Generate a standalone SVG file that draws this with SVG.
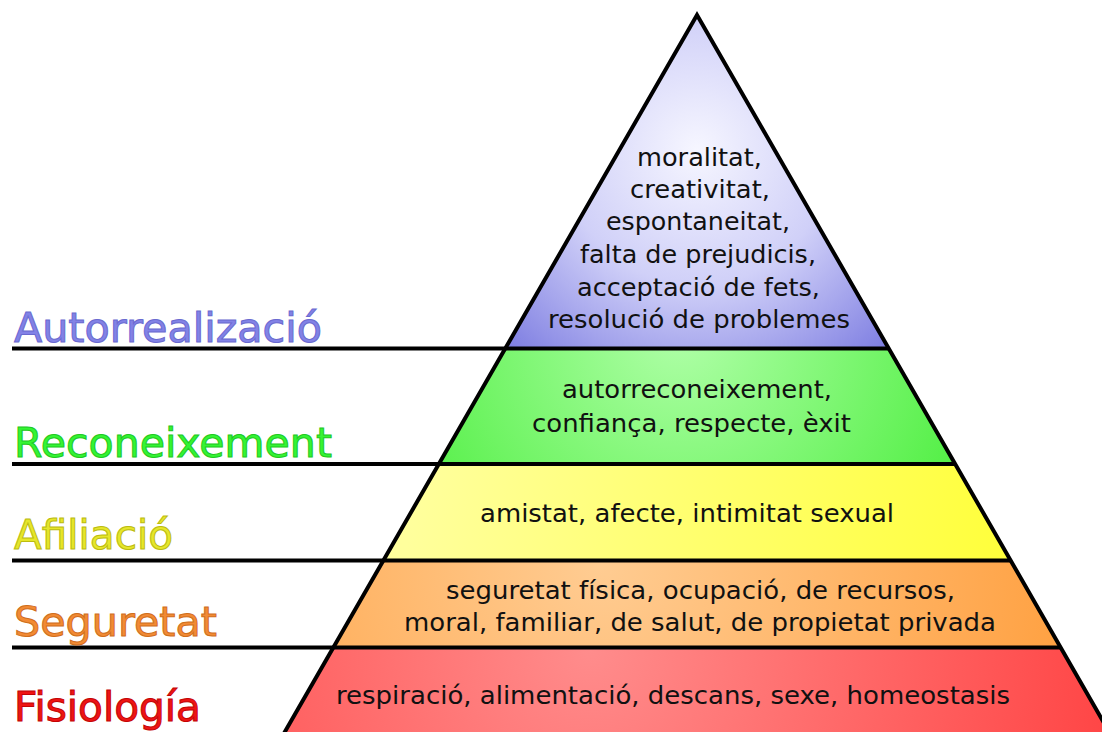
<svg xmlns="http://www.w3.org/2000/svg" width="1102" height="732" viewBox="0 0 1102 732">
<style>
.t{font-family:"DejaVu Sans","Liberation Sans",sans-serif;font-size:25px;fill:#111;}
.lbl{font-family:"DejaVu Sans","Liberation Sans",sans-serif;font-size:40px;stroke-width:1;}
.band{stroke:none;}
.edge{fill:none;stroke:#000;stroke-width:4;stroke-linejoin:miter;}
.line{stroke:#000;stroke-width:4;}
</style>
<defs>
<radialGradient id="gTop" gradientUnits="userSpaceOnUse" cx="697" cy="150" r="270">
<stop offset="0" stop-color="#f6f6ff"/>
<stop offset="0.5" stop-color="#d0d0f8"/>
<stop offset="1" stop-color="#8080e2"/>
</radialGradient>
<radialGradient id="gGreen" gradientUnits="userSpaceOnUse" cx="680" cy="330" r="330">
<stop offset="0" stop-color="#b0ffa8"/>
<stop offset="1" stop-color="#4cee3e"/>
</radialGradient>
<linearGradient id="gYellow" gradientUnits="userSpaceOnUse" x1="420" y1="465" x2="1000" y2="560">
<stop offset="0" stop-color="#ffff9c"/>
<stop offset="1" stop-color="#ffff3c"/>
</linearGradient>
<radialGradient id="gOrange" gradientUnits="userSpaceOnUse" cx="600" cy="565" r="480">
<stop offset="0" stop-color="#ffcc92"/>
<stop offset="1" stop-color="#ffa040"/>
</radialGradient>
<radialGradient id="gRed" gradientUnits="userSpaceOnUse" cx="590" cy="650" r="520">
<stop offset="0" stop-color="#ff8c8c"/>
<stop offset="1" stop-color="#ff4646"/>
</radialGradient>
</defs>
<rect width="1102" height="732" fill="#fff"/>
<g id="band-autorrealitzacio">
<polygon class="band" fill="url(#gTop)" points="697,15 888.4,348.5 505.6,348.5"/>
</g>
<g id="band-reconeixement">
<polygon class="band" fill="url(#gGreen)" points="505.6,348.5 888.4,348.5 955,464 439,464"/>
</g>
<g id="band-afiliacio">
<polygon class="band" fill="url(#gYellow)" points="439,464 955,464 1010.5,560.5 383.5,560.5"/>
</g>
<g id="band-seguretat">
<polygon class="band" fill="url(#gOrange)" points="383.5,560.5 1010.5,560.5 1060.5,647.5 333.5,647.5"/>
</g>
<g id="band-fisiologia">
<polygon class="band" fill="url(#gRed)" points="333.5,647.5 1060.5,647.5 1115,742 279,742"/>
</g>
<g id="connectors">
<line class="line" x1="12" y1="348.5" x2="888.4" y2="348.5"/>
<line class="line" x1="12" y1="464" x2="955" y2="464"/>
<line class="line" x1="12" y1="560.5" x2="1010.5" y2="560.5"/>
<line class="line" x1="12" y1="647.5" x2="1060.5" y2="647.5"/>
<polyline class="edge" points="279,742 697,15 1115,742"/>
</g>
<g id="text-autorrealitzacio">
<text class="t" x="637" y="166" textLength="125" lengthAdjust="spacingAndGlyphs">moralitat,</text>
<text class="t" x="630" y="198" textLength="140" lengthAdjust="spacingAndGlyphs">creativitat,</text>
<text class="t" x="606" y="230" textLength="184" lengthAdjust="spacingAndGlyphs">espontaneitat,</text>
<text class="t" x="580" y="263" textLength="236" lengthAdjust="spacingAndGlyphs">falta de prejudicis,</text>
<text class="t" x="577" y="296" textLength="243" lengthAdjust="spacingAndGlyphs">acceptació de fets,</text>
<text class="t" x="548" y="328" textLength="302" lengthAdjust="spacingAndGlyphs">resolució de problemes</text>
</g>
<g id="text-reconeixement">
<text class="t" x="562" y="398" textLength="270" lengthAdjust="spacingAndGlyphs">autorreconeixement,</text>
<text class="t" x="532" y="432" textLength="319" lengthAdjust="spacingAndGlyphs">confiança, respecte, èxit</text>
</g>
<g id="text-afiliacio">
<text class="t" x="480" y="522" textLength="414" lengthAdjust="spacingAndGlyphs">amistat, afecte, intimitat sexual</text>
</g>
<g id="text-seguretat">
<text class="t" x="446" y="599" textLength="509" lengthAdjust="spacingAndGlyphs">seguretat física, ocupació, de recursos,</text>
<text class="t" x="404" y="631" textLength="592" lengthAdjust="spacingAndGlyphs">moral, familiar, de salut, de propietat privada</text>
</g>
<g id="text-fisiologia">
<text class="t" x="336" y="704" textLength="674" lengthAdjust="spacingAndGlyphs">respiració, alimentació, descans, sexe, homeostasis</text>
</g>
<g id="label-autorrealitzacio">
<text class="lbl" x="14" y="342" textLength="308" lengthAdjust="spacingAndGlyphs" fill="#8282e6" stroke="#6a6ad0">Autorrealizació</text>
</g>
<g id="label-reconeixement">
<text class="lbl" x="14" y="457" textLength="318" lengthAdjust="spacingAndGlyphs" fill="#33f533" stroke="#22c822">Reconeixement</text>
</g>
<g id="label-afiliacio">
<text class="lbl" x="14" y="549" textLength="159" lengthAdjust="spacingAndGlyphs" fill="#e6e62a" stroke="#bcbc10">Afiliació</text>
</g>
<g id="label-seguretat">
<text class="lbl" x="14" y="636" textLength="203" lengthAdjust="spacingAndGlyphs" fill="#f28a34" stroke="#d06e1c">Seguretat</text>
</g>
<g id="label-fisiologia">
<text class="lbl" x="14" y="721" textLength="187" lengthAdjust="spacingAndGlyphs" fill="#ee1414" stroke="#c40404">Fisiología</text>
</g>
</svg>
